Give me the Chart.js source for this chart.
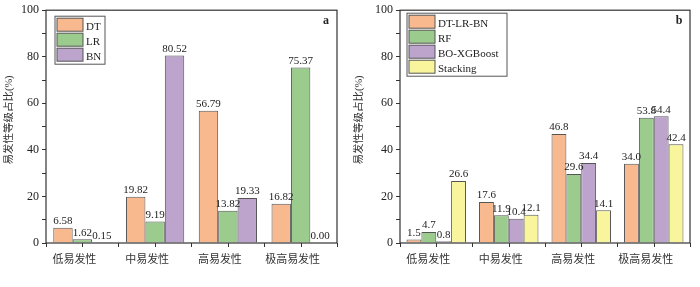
<!DOCTYPE html>
<html>
<head>
<meta charset="utf-8">
<script src="https://cdn.jsdelivr.net/npm/chart.js@4/dist/chart.umd.min.js"></script>
<style>
  html, body { margin: 0; padding: 0; background: #fff; }
  #wrap { position: relative; width: 700px; height: 287px; }
  canvas { position: absolute; top: 0; }
</style>
</head>
<body>
<div id="wrap">
  <canvas id="chartA" width="350" height="287" style="left:0"></canvas>
  <canvas id="chartB" width="350" height="287" style="left:350px"></canvas>
</div>
<script>
const categories = ['低易发性', '中易发性', '高易发性', '极高易发性']
const yTicks = [0, 20, 40, 60, 80, 100]
const yTitle = '易发性等级占比(%)'

// panel a
const dtValues = [6.58, 19.82, 56.79, 16.82]
const lrValues = [1.62, 9.19, 13.82, 75.37]
const bnValues = [0.15, 80.52, 19.33, 0.00]

// panel b
const dtlrbnValues = [1.5, 17.6, 46.8, 34.0]
const rfValues = [4.7, 11.9, 29.6, 53.8]
const boxgbValues = [0.8, 10.4, 34.4, 54.4]
const stackingValues = [26.6, 12.1, 14.1, 42.4]

const ORANGE = '#f8b98e'
const GREEN = '#9ccb8e'
const PURPLE = '#bca4cc'
const YELLOW = '#f9f59c'
const EDGE = '#555555'
const FONT = "'Liberation Serif', 'Noto Sans CJK SC', serif"

// box around plot area, centre ticks on x, y title
const frame = {
  id: 'frame',
  afterDraw(chart) {
    const {ctx, chartArea: a} = chart
    ctx.save()
    ctx.strokeStyle = '#333'
    ctx.lineWidth = 1.2
    ctx.strokeRect(a.left, a.top, a.right - a.left, a.bottom - a.top)
    const xs = chart.scales.x
    ctx.lineWidth = 1
    categories.forEach((c, i) => {
      const px = Math.round(xs.getPixelForValue(i)) + 0.5
      ctx.beginPath()
      ctx.moveTo(px, a.bottom)
      ctx.lineTo(px, a.bottom + 4)
      ctx.stroke()
    })
    ctx.translate(9, 120)
    ctx.rotate(-Math.PI / 2)
    ctx.font = '10.5px ' + FONT
    ctx.fillStyle = '#333'
    ctx.textAlign = 'center'
    ctx.textBaseline = 'middle'
    ctx.fillText(yTitle, 0, 0)
    ctx.restore()
  }
}

// numbers above bars
const valueLabels = {
  id: 'valueLabels',
  afterDatasetsDraw(chart, args, opts) {
    const ctx = chart.ctx
    ctx.save()
    ctx.font = '11px ' + FONT
    ctx.fillStyle = '#222'
    ctx.textAlign = 'center'
    ctx.textBaseline = 'bottom'
    chart.data.datasets.forEach((ds, i) => {
      chart.getDatasetMeta(i).data.forEach((bar, j) => {
        ctx.fillText(ds.data[j].toFixed(opts.digits), bar.x, bar.y - 1)
      })
    })
    ctx.restore()
  }
}

// legend box inside plot + panel letter
const boxLegend = {
  id: 'boxLegend',
  afterDraw(chart, args, opts) {
    const ctx = chart.ctx
    const a = chart.chartArea
    const x0 = a.left + opts.dx
    const y0 = a.top + opts.dy
    const n = chart.data.datasets.length
    ctx.save()
    ctx.fillStyle = '#fff'
    ctx.strokeStyle = '#555'
    ctx.lineWidth = 1
    ctx.fillRect(x0, y0, opts.w, n * opts.rowH + 3)
    ctx.strokeRect(x0, y0, opts.w, n * opts.rowH + 3)
    ctx.font = '11px ' + FONT
    ctx.textBaseline = 'middle'
    chart.data.datasets.forEach((ds, i) => {
      const y = y0 + 2 + i * opts.rowH
      ctx.fillStyle = ds.backgroundColor
      ctx.fillRect(x0 + 2, y, 26, opts.rowH - 2)
      ctx.strokeStyle = EDGE
      ctx.strokeRect(x0 + 2, y, 26, opts.rowH - 2)
      ctx.fillStyle = '#222'
      ctx.textAlign = 'left'
      ctx.fillText(ds.label, x0 + 31, y + opts.rowH / 2 + opts.textDy)
    })
    ctx.font = 'bold 12px ' + FONT
    ctx.textAlign = 'center'
    ctx.fillText(opts.letter, a.right - 11, a.top + 11)
    ctx.restore()
  }
}

function makeDataset(label, data, color) {
  return {
    label: label,
    data: data,
    backgroundColor: color,
    borderColor: EDGE,
    borderWidth: 1,
    borderSkipped: 'bottom'
  }
}

function makeOptions(yWidth, rightPad, barPct, digits, legendOpts) {
  return {
    responsive: false,
    animation: false,
    categoryPercentage: barPct,
    barPercentage: 1,
    layout: { padding: { top: 9, right: rightPad, left: 0, bottom: 0 } },
    plugins: {
      legend: { display: false },
      tooltip: { enabled: false },
      valueLabels: { digits: digits },
      boxLegend: legendOpts
    },
    scales: {
      x: {
        grid: { offset: true, drawOnChartArea: false, tickLength: 4, color: '#333' },
        border: { display: false },
        ticks: {
          color: '#333',
          font: { family: FONT, size: 11 },
          padding: 7,
          labelOffset: -8,
          maxRotation: 0,
          minRotation: 0,
          autoSkip: false
        },
        afterFit(scale) { scale.height = 44 }
      },
      y: {
        min: 0,
        max: 100,
        afterBuildTicks(scale) {
          scale.ticks = []
          for (let v = 0; v <= 100; v += 10) scale.ticks.push({ value: v })
        },
        grid: {
          drawOnChartArea: false,
          tickLength: 4,
          color: '#333'
        },
        border: { display: false },
        ticks: {
          color: '#222',
          font: { family: FONT, size: 12 },
          padding: 3,
          callback: v => yTicks.includes(v) ? String(v) : ''
        },
        afterFit(scale) { scale.width = yWidth }
      }
    }
  }
}

new Chart(document.getElementById('chartA'), {
  type: 'bar',
  data: {
    labels: categories,
    datasets: [
      makeDataset('DT', dtValues, ORANGE),
      makeDataset('LR', lrValues, GREEN),
      makeDataset('BN', bnValues, PURPLE)
    ]
  },
  options: makeOptions(46, 13, 0.8, 2,
    { dx: 9, dy: 6, w: 50, rowH: 15, textDy: 1, letter: 'a' }),
  plugins: [valueLabels, boxLegend, frame]
})

new Chart(document.getElementById('chartB'), {
  type: 'bar',
  data: {
    labels: categories,
    datasets: [
      makeDataset('DT-LR-BN', dtlrbnValues, ORANGE),
      makeDataset('RF', rfValues, GREEN),
      makeDataset('BO-XGBoost', boxgbValues, PURPLE),
      makeDataset('Stacking', stackingValues, YELLOW)
    ]
  },
  options: makeOptions(50, 10, 0.82, 1,
    { dx: 7, dy: 3, w: 100, rowH: 15, textDy: 1, letter: 'b' }),
  plugins: [valueLabels, boxLegend, frame]
})
</script>
</body>
</html>
